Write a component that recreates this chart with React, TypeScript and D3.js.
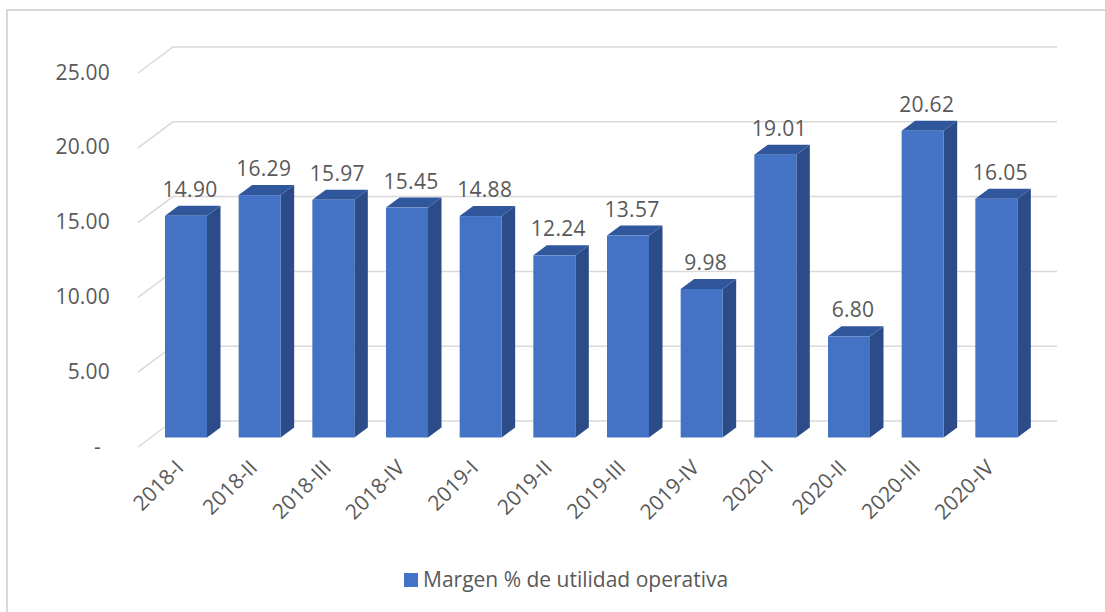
import React from "react";
import * as d3 from "d3";

const categories = ["2018-I","2018-II","2018-III","2018-IV","2019-I","2019-II","2019-III","2019-IV","2020-I","2020-II","2020-III","2020-IV"];
const values = [14.90,16.29,15.97,15.45,14.88,12.24,13.57,9.98,19.01,6.80,20.62,16.05];
const yTicks = [0,5,10,15,20,25];
const yTickLabels = ["-","5.00","10.00","15.00","20.00","25.00"];
const seriesName = "Margen % de utilidad operativa";

const W = 1105, H = 612;
const FONT = "'Open Sans', sans-serif";
const FS = 21;
const TEXT = "#595959";
const GRID = "#D9D9D9";
const FRONT = "#4472C4";
const TOP = "#30569B";
const SIDE = "#2B4C88";

export default function App() {
  // floor depth vector (front -> back)
  const DX = 35, DY = -26;
  const x = d3.scaleBand<string>().domain(categories).range([173, 1057]);
  const yFront = d3.scaleLinear().domain([0, 25]).range([447, 73]);
  const yBar = d3.scaleLinear().domain([0, 25]).range([437.5, 437.5 - 25 * 14.88]);
  const backX0 = 173, backX1 = 1057, frontX0 = backX0 - DX;
  const barW = 42, bdx = 13.5, bdy = -10;

  return (
    <svg width={W} height={H} style={{ position: "absolute", left: 0, top: 0, background: "#fff" }}>
      <rect x={7} y={10} width={1200} height={700} fill="#fff" stroke={GRID} strokeWidth={2} />
      {yTicks.map((t, i) => {
        const yf = yFront(t);
        const yb = yf + DY;
        return (
          <g key={t}>
            <polyline points={`${frontX0},${yf} ${backX0},${yb} ${backX1},${yb}`} fill="none" stroke={GRID} strokeWidth={1.5} />
            <text x={t === 0 ? 101 : 110} y={yf + 1} textAnchor="end" dominantBaseline="middle"
              fontFamily={FONT} fontSize={FS} letterSpacing={0.2} fill={TEXT}>{yTickLabels[i]}</text>
          </g>
        );
      })}
      {categories.map((c, i) => {
        const v = values[i];
        const x0 = (x(c) as number) - 8;
        const x1 = x0 + barW;
        const yb = yBar(0);
        const yt = yBar(v);
        const top = `${x0},${yt} ${x0 + bdx},${yt + bdy} ${x1 + bdx},${yt + bdy} ${x1},${yt}`;
        const side = `${x1},${yt} ${x1 + bdx},${yt + bdy} ${x1 + bdx},${yb + bdy} ${x1},${yb}`;
        return (
          <g key={c}>
            <polygon points={side} fill={SIDE} />
            <polygon points={top} fill={TOP} />
            <rect x={x0} y={yt} width={barW} height={yb - yt} fill={FRONT} />
            <text x={x0 + barW / 2 + 4} y={yt + bdy - 9} textAnchor="middle"
              fontFamily={FONT} fontSize={FS} letterSpacing={0.3} fill={TEXT}>{v.toFixed(2)}</text>
            <text transform={`translate(${x0 + barW / 2 - 1},${469}) rotate(-45)`} textAnchor="end"
              fontFamily={FONT} fontSize={FS} fill={TEXT}>{c}</text>
          </g>
        );
      })}
      <rect x={404} y={573} width={14} height={14} fill={FRONT} />
      <text x={423} y={587} fontFamily={FONT} fontSize={FS} fill={TEXT}>{seriesName}</text>
    </svg>
  );
}
